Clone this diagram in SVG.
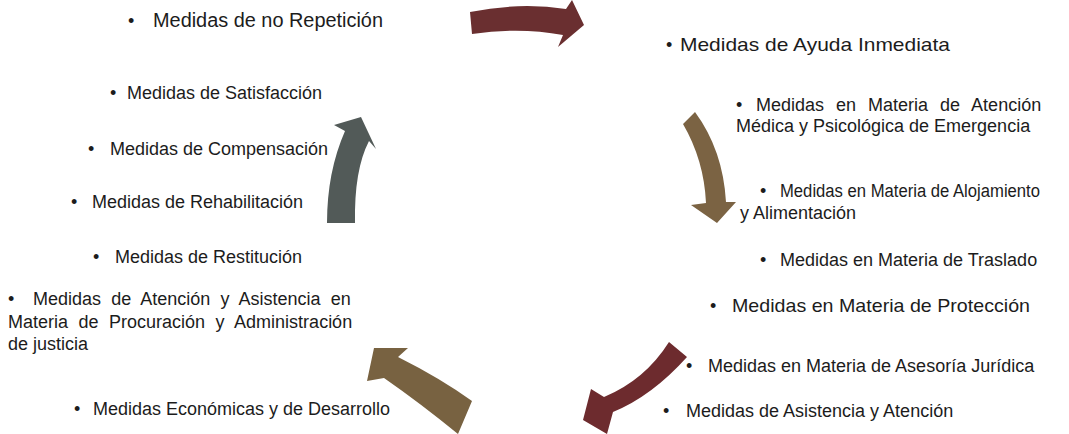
<svg xmlns="http://www.w3.org/2000/svg" width="1069" height="434" viewBox="0 0 1069 434">
<style>
text{font-family:"Liberation Sans",Arial,sans-serif;font-size:18px;fill:#1c1c1c}
.a1{fill:#6a2f30}.a2{fill:#7b6343}.a3{fill:#6d2b2e}.a4{fill:#786241}.a5{fill:#525a58}
</style>
<rect width="1069" height="434" fill="#ffffff"/>
<g id="connectors">
<path class="a1" d="M470,12 Q520,2 566,9 L572,0 L584,25 L558,47 L563,35 Q520,27 472,34 Z"/>
<path class="a2" d="M683,124 L695,112 Q723,150 726,202 L736,202 L717,223 L691,205 L706,203 Q704,160 683,124 Z"/>
<path class="a3" d="M669,342 L687,357 Q652,396 613,412 L607,434 L583,420 L591,389 L604,397 Q645,380 669,342 Z"/>
<path class="a4" d="M472,401 L458,434 Q420,403 384,378 L367,381 L374,348 L408,348 L398,357 Q440,378 472,401 Z"/>
<path class="a5" d="M327,223 L355,223 Q354,170 369,141 L376,149 L361,117 L334,125 L345,131 Q327,172 327,223 Z"/>
</g>
<g id="n1"><text x="128" y="27">•</text><text x="153" y="27" textLength="230" lengthAdjust="spacingAndGlyphs" style="font-size:19.5px">Medidas de no Repetición</text></g>
<g id="n2"><text x="666" y="51">•</text><text x="680" y="51" textLength="270" lengthAdjust="spacingAndGlyphs" style="font-size:19px">Medidas de Ayuda Inmediata</text></g>
<g id="n3"><text x="110" y="99">•</text><text x="127" y="99">Medidas de Satisfacción</text></g>
<g id="n4"><text x="736" y="111">•</text><text x="756" y="111" style="word-spacing:7px">Medidas en Materia de Atención</text><text x="736" y="132">Médica y Psicológica de Emergencia</text></g>
<g id="n5"><text x="88" y="155">•</text><text x="110" y="155">Medidas de Compensación</text></g>
<g id="n6"><text x="760" y="197">•</text><text x="780" y="197" textLength="260" lengthAdjust="spacingAndGlyphs">Medidas en Materia de Alojamiento</text><text x="740" y="219">y Alimentación</text></g>
<g id="n7"><text x="71" y="208">•</text><text x="92" y="208">Medidas de Rehabilitación</text></g>
<g id="n8"><text x="93" y="263">•</text><text x="115" y="263">Medidas de Restitución</text></g>
<g id="n9"><text x="760" y="266">•</text><text x="780" y="266">Medidas en Materia de Traslado</text></g>
<g id="n10"><text x="8" y="305">•</text><text x="33" y="305" style="word-spacing:5.1px">Medidas de Atención y Asistencia en</text><text x="8" y="328" style="word-spacing:5.5px">Materia de Procuración y Administración</text><text x="8" y="350">de justicia</text></g>
<g id="n11"><text x="710" y="312">•</text><text x="732" y="312" textLength="298" lengthAdjust="spacingAndGlyphs" style="font-size:19px">Medidas en Materia de Protección</text></g>
<g id="n12"><text x="686" y="372">•</text><text x="708" y="372">Medidas en Materia de Asesoría Jurídica</text></g>
<g id="n13"><text x="74" y="415">•</text><text x="93" y="415">Medidas Económicas y de Desarrollo</text></g>
<g id="n14"><text x="663" y="417">•</text><text x="686" y="417">Medidas de Asistencia y Atención</text></g>
</svg>
